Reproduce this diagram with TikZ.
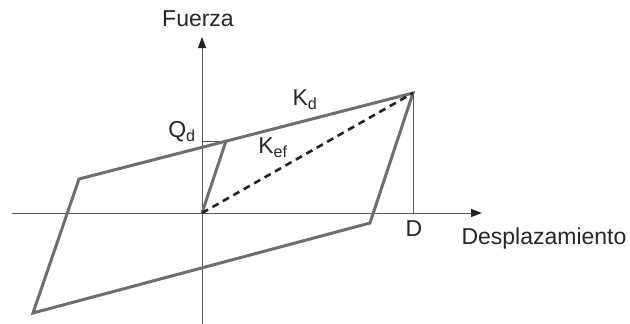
\documentclass[tikz,border=0pt]{standalone}
\usepackage{fontspec}
\setmainfont{Liberation Sans}
\usetikzlibrary{arrows.meta}
\definecolor{curvegray}{HTML}{6E6E6E}
\definecolor{axisgray}{HTML}{5A5A5A}
\definecolor{dashblack}{HTML}{222222}

\begin{document}
\begin{tikzpicture}[x=1pt,y=-1pt,
  label/.style={inner sep=0pt,font=\fontsize{23}{26}\selectfont,text=black!85},
  axis/.style={draw=axisgray,line width=1pt,-{Triangle[length=11pt,width=8pt,color=dashblack]}},
  thin/.style={draw=axisgray,line width=1pt},
  curve/.style={draw=curvegray,line width=3pt,line join=miter},
  secant/.style={draw=dashblack,line width=2.6pt,dash pattern=on 7pt off 5pt},
]
\useasboundingbox (0,0) rectangle (630,324);
\coordinate(o) at(202,213); \coordinate(p) at(413,93);
\coordinate(y) at(226,141); \coordinate(q) at(202,141);
\coordinate(a) at(79,179);  \coordinate(b) at(33,313);
\coordinate(c) at(370,223); \coordinate(d) at(413,213);
\coordinate(xl) at(12,213); \coordinate(xr) at(482,213);
\coordinate(yb) at(202,324); \coordinate(yt) at(202,37);
\draw[axis](xl)--(xr); \draw[axis](yb)--(yt);
\draw[thin](q)--(y); \draw[thin](p)--(d);
\draw[curve](p)--(a)--(b)--(c)--cycle;
\draw[curve](o)--(y);
\draw[secant](o)--(p);
\node[label](fuerza) at(198,19){Fuerza};
\node[label](qd) at(182,132){Q\textsubscript{d}};
\node[label](kd) at(305,100){K\textsubscript{d}};
\node[label](kef) at(273,148){K\textsubscript{ef}};
\node[label](dd) at(414,229){D};
\node[label](desp) at(544,239){Desplazamiento};
\end{tikzpicture}
\end{document}
